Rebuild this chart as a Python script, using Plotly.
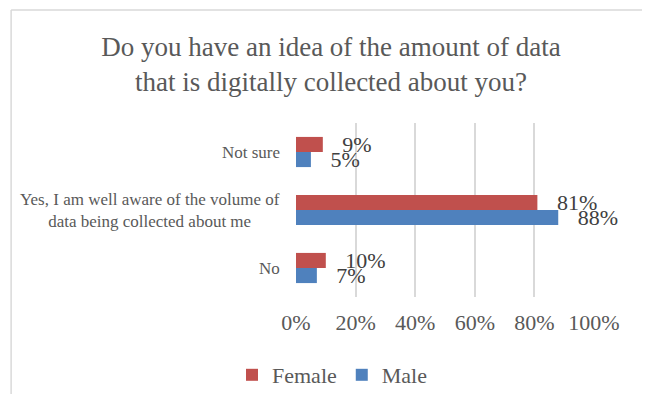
import plotly.graph_objects as go

categories = ["No", "Yes, I am well aware of the volume of<br>data being collected about me", "Not sure"]
female = [0.10, 0.81, 0.09]
male = [0.07, 0.88, 0.05]
x_ticks = [0, 0.2, 0.4, 0.6, 0.8, 1.0]
x_tick_labels = ["0%", "20%", "40%", "60%", "80%", "100%"]

FONT = "Liberation Serif"
GREY = "#595959"

fig = go.Figure()
fig.add_trace(go.Bar(
    y=categories, x=male, name="Male", orientation="h",
    marker=dict(color="#4F81BD", line=dict(width=0)),
    text=male, texttemplate="\u00a0\u00a0\u00a0%{x:.0%}", textposition="outside",
    constraintext="none", cliponaxis=False,
    textfont=dict(family=FONT, size=22, color="#404040"),
))
fig.add_trace(go.Bar(
    y=categories, x=female, name="Female", orientation="h",
    marker=dict(color="#C0504D", line=dict(width=0)),
    text=female, texttemplate="\u00a0\u00a0\u00a0%{x:.0%}", textposition="outside",
    constraintext="none", cliponaxis=False,
    textfont=dict(family=FONT, size=22, color="#404040"),
))

annotations = []
for c in categories:
    annotations.append(dict(
        x=0, y=c, xref="x", yref="y", text=c, showarrow=False,
        xanchor="right", yanchor="middle", align="center", xshift=-14,
        font=dict(family=FONT, size=17, color=GREY),
    ))

W, H = 634, 386
fig.update_layout(
    width=W, height=H,
    margin=dict(l=288, r=48, t=115, b=97, autoexpand=False),
    paper_bgcolor="white", plot_bgcolor="white",
    barmode="group", bargap=0.48, bargroupgap=0,
    title=dict(
        text="Do you have an idea of the amount of data<br>that is digitally collected about you?",
        x=(331 - 8) / W, xanchor="center", xref="container",
        y=1 - 48 / H, yanchor="top", yref="container",
        font=dict(family=FONT, size=27, color=GREY),
    ),
    xaxis=dict(
        range=[0, 1], tickvals=x_ticks, ticktext=x_tick_labels,
        showgrid=True, gridcolor="#D9D9D9", gridwidth=1.5,
        zeroline=False, showline=False, ticks="", ticklabelstandoff=10,
        tickfont=dict(family=FONT, size=22, color=GREY),
        fixedrange=True,
    ),
    yaxis=dict(
        categoryorder="array", categoryarray=categories,
        showticklabels=False, showgrid=False, zeroline=False, showline=False,
        ticks="", fixedrange=True,
    ),
    legend=dict(
        orientation="h", x=324 / W, xanchor="center", xref="container",
        y=1 - 367 / H, yanchor="middle", yref="container",
        traceorder="reversed", font=dict(family=FONT, size=22, color=GREY),
        itemwidth=30,
    ),
    annotations=annotations,
    shapes=[
        dict(type="line", xref="paper", yref="paper", x0=-0.956, x1=-0.956, y0=1.649, y1=-0.7,
             line=dict(color="#D9D9D9", width=1.5)),
        dict(type="line", xref="paper", yref="paper", x0=-0.956, x1=1.3, y0=1.649, y1=1.649,
             line=dict(color="#D9D9D9", width=1.5)),
    ],
    showlegend=True,
)

fig.write_html("out.html")
